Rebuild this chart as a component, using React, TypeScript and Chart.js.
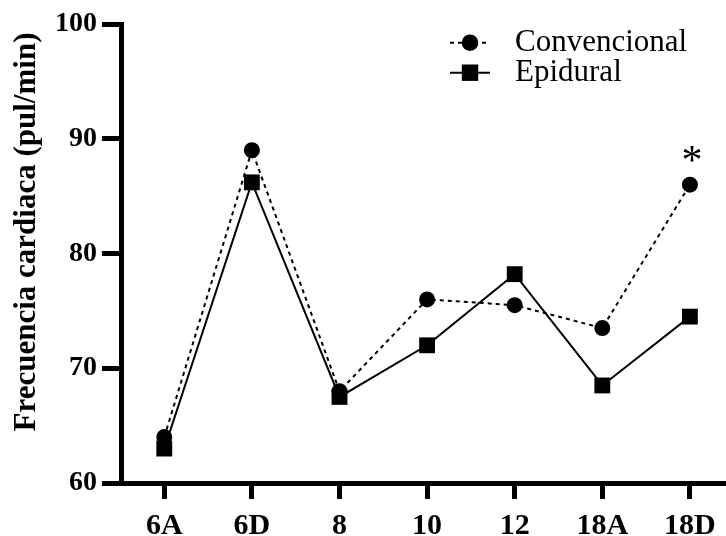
import React, { useEffect, useRef } from "react";
import { Chart, registerables } from "chart.js";

Chart.register(...registerables);

const categories = ["6A", "6D", "8", "10", "12", "18A", "18D"];
const convencional = [64, 89, 68, 76, 75.5, 73.5, 86];
const epidural = [63, 86.2, 67.5, 72, 78.2, 68.5, 74.5];
const yTicks = [60, 70, 80, 90, 100];
const seriesNames = ["Convencional", "Epidural"];
const yTitle = "Frecuencia cardiaca (pul/min)";
const significance = { index: 6, mark: "*" };

const FONT = "'Liberation Serif', 'Times New Roman', serif";

const overlayPlugin = {
  id: "overlay",
  afterDraw(chart: any) {
    const ctx = chart.ctx;
    const xs = chart.scales.x;
    const ys = chart.scales.y;
    ctx.save();
    ctx.fillStyle = "#000";
    ctx.strokeStyle = "#000";

    // y-axis title
    ctx.save();
    ctx.translate(27, 232);
    ctx.rotate(-Math.PI / 2);
    ctx.font = `bold 31px ${FONT}`;
    ctx.textAlign = "center";
    ctx.textBaseline = "middle";
    ctx.fillText(yTitle, 0, 0);
    ctx.restore();

    // legend
    const lx0 = 450, lx1 = 490, lxm = 470;
    const rows = [42.7, 72.7];
    ctx.lineWidth = 2;
    ctx.setLineDash([4, 4]);
    ctx.beginPath();
    ctx.moveTo(lx0, rows[0]);
    ctx.lineTo(lx1, rows[0]);
    ctx.stroke();
    ctx.setLineDash([]);
    ctx.beginPath();
    ctx.arc(lxm, rows[0], 8.3, 0, Math.PI * 2);
    ctx.fill();
    ctx.beginPath();
    ctx.moveTo(lx0, rows[1]);
    ctx.lineTo(lx1, rows[1]);
    ctx.stroke();
    ctx.fillRect(lxm - 8.2, rows[1] - 8.2, 16.4, 16.4);

    ctx.font = `31px ${FONT}`;
    ctx.textAlign = "left";
    ctx.textBaseline = "middle";
    ctx.fillText(seriesNames[0], 515, rows[0]);
    ctx.fillText(seriesNames[1], 515, rows[1]);

    // significance mark
    const px = xs.getPixelForValue(significance.index);
    const py = ys.getPixelForValue(convencional[significance.index]);
    ctx.font = `42px ${FONT}`;
    ctx.textAlign = "center";
    ctx.textBaseline = "alphabetic";
    ctx.fillText(significance.mark, px + 2, py - 11);
    ctx.restore();
  },
};

export default function App() {
  const ref = useRef<HTMLCanvasElement | null>(null);

  useEffect(() => {
    if (!ref.current) return;
    const chart = new Chart(ref.current, {
      type: "line",
      data: {
        datasets: [
          {
            label: seriesNames[0],
            data: convencional.map((y, i) => ({ x: i, y })),
            borderColor: "#000",
            backgroundColor: "#000",
            borderWidth: 2,
            borderDash: [4, 4],
            pointStyle: "circle",
            pointRadius: 8,
            pointBorderWidth: 0,
            pointBackgroundColor: "#000",
            tension: 0,
            clip: false,
          },
          {
            label: seriesNames[1],
            data: epidural.map((y, i) => ({ x: i, y })),
            borderColor: "#000",
            backgroundColor: "#000",
            borderWidth: 2,
            pointStyle: "rect",
            pointRadius: 11.2,
            pointBorderWidth: 0,
            pointBackgroundColor: "#000",
            tension: 0,
            clip: false,
          },
        ],
      },
      options: {
        animation: false,
        responsive: false,
        maintainAspectRatio: false,
        layout: { autoPadding: false, padding: { top: 24, right: 0, left: 0, bottom: 0 } },
        plugins: {
          legend: { display: false },
          tooltip: { enabled: false },
        },
        scales: {
          x: {
            type: "linear",
            min: -0.494,
            max: 6.412,
            afterBuildTicks: (scale: any) => {
              scale.ticks = categories.map((_, i) => ({ value: i }));
            },
            afterFit: (scale: any) => {
              scale.height = 53;
              scale.paddingLeft = 0;
              scale.paddingRight = 0;
            },
            ticks: {
              autoSkip: false,
              maxRotation: 0,
              minRotation: 0,
              padding: 9,
              color: "#000",
              font: { family: FONT, size: 30, weight: "bold" },
              callback: (v: any) => categories[v as number] ?? "",
            },
            grid: {
              display: true,
              drawOnChartArea: false,
              drawTicks: true,
              tickLength: 16,
              lineWidth: 5,
              color: "#000",
            },
            border: { display: true, width: 5, color: "#000" },
          },
          y: {
            type: "linear",
            min: yTicks[0],
            max: yTicks[yTicks.length - 1],
            afterBuildTicks: (scale: any) => {
              scale.ticks = yTicks.map((v) => ({ value: v }));
            },
            afterFit: (scale: any) => {
              scale.width = 121;
              scale.paddingTop = 0;
              scale.paddingBottom = 0;
            },
            ticks: {
              padding: 5,
              color: "#000",
              font: { family: FONT, size: 28, weight: "bold" },
            },
            grid: {
              display: true,
              drawOnChartArea: false,
              drawTicks: true,
              tickLength: 19,
              lineWidth: 5,
              color: "#000",
            },
            border: { display: true, width: 5, color: "#000" },
          },
        },
      },
      plugins: [overlayPlugin],
    });
    return () => chart.destroy();
  }, []);

  return (
    <div
      style={{
        position: "fixed",
        left: 0,
        top: 0,
        width: 726,
        height: 536,
        background: "#fff",
      }}
    >
      <canvas
        ref={ref}
        width={726}
        height={536}
        style={{ width: 726, height: 536, display: "block" }}
      />
    </div>
  );
}
